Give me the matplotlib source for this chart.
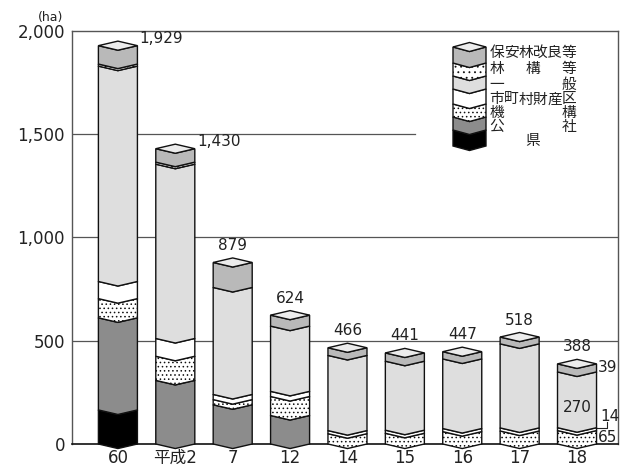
import numpy as np
import matplotlib.pyplot as plt
from matplotlib.patches import Polygon

plt.rcParams['font.family'] = ['DejaVu Sans', 'Noto Sans CJK JP']
plt.rcParams['hatch.linewidth'] = 0.6

# 年度別の造林面積 (ha), 事業主体別
years = ['60', '平成2', '7', '12', '14', '15', '16', '17', '18']
totals = [1929, 1430, 879, 624, 466, 441, 447, 518, 388]
ken = [165, 0, 0, 0, 0, 0, 0, 0, 0]
kosha = [446, 308, 190, 138, 0, 0, 0, 0, 0]
kiko = [93, 117, 25, 92, 50, 52, 60, 63, 65]
shichoson = [83, 86, 25, 25, 15, 15, 15, 15, 14]
ippan = [1043, 844, 518, 316, 364, 334, 337, 407, 270]
rinko = [10, 10, 0, 0, 0, 0, 0, 0, 0]
hoanrin = [89, 65, 121, 53, 37, 40, 35, 33, 39]

# bottom -> top
series = [ken, kosha, kiko, shichoson, ippan, rinko, hoanrin]
names = ['県', '公社', '機構', '市町村財産区', '一般', '林構等', '保安林改良等']
faces = ['#000000', '#8c8c8c', 'white', 'white', '#dedede', 'white', '#b9b9b9']
hatches = [None, None, '....', None, None, '...', None]
top_face = '#ececec'

W, H = 627, 468
fig = plt.figure(figsize=(W / 100, H / 100), dpi=100)
ax = fig.add_axes([72 / W, 1 - 444 / H, (618 - 72) / W, (444 - 31) / H])
ax.set_xlim(-0.80, 8.714)
ax.set_ylim(0, 2000)

pos = np.arange(len(years))
w = 0.34   # half width of a column
d = 22     # depth of the chevrons (ha)

# grid
ax.axhline(1500, xmax=(415 - 72) / (618 - 72), color='#555', lw=0.9, zorder=1)
for g in (500, 1000):
    ax.axhline(g, color='#555', lw=0.9, zorder=1)


def column(x, vals, total):
    lo = 0
    for v, fc, h in zip(vals, faces, hatches):
        if v == 0:
            continue
        hi = lo + v
        pts = [(x - w, lo), (x, lo - d), (x + w, lo), (x + w, hi), (x, hi - d), (x - w, hi)]
        ax.add_patch(Polygon(pts, closed=True, facecolor=fc, edgecolor='#111', lw=1,
                             hatch=h, clip_on=False, zorder=3))
        lo = hi
    pts = [(x - w, total), (x, total + d), (x + w, total), (x, total - d)]
    ax.add_patch(Polygon(pts, closed=True, facecolor=top_face, edgecolor='#111', lw=1,
                         clip_on=False, zorder=3))


for i, x in enumerate(pos):
    column(x, [s[i] for s in series], totals[i])
    label = f'{totals[i]:,}'
    if i < 2:
        ax.text(x + w + 0.04, totals[i], label, ha='left', va='bottom', fontsize=11, color='#222')
    else:
        ax.text(x, totals[i] + d + 24, label, ha='center', va='bottom', fontsize=11, color='#222')

# breakdown of the last column
x = pos[-1]
ax.text(x + w + 0.03, kiko[-1] + shichoson[-1] + ippan[-1] + hoanrin[-1] / 2, str(hoanrin[-1]),
        ha='left', va='center', fontsize=11, color='#222')
ax.text(x, 179, str(ippan[-1]), ha='center', va='center', fontsize=11, color='#222', zorder=4)
ax.text(x + w + 0.06, 135, str(shichoson[-1]), ha='left', va='center', fontsize=11, color='#222')
ax.text(x + w + 0.03, kiko[-1] / 2, str(kiko[-1]), ha='left', va='center', fontsize=11, color='#222')
ax.plot([x + w, x + w + 0.19, x + w + 0.19], [76, 76, 108], color='#222', lw=0.8, clip_on=False)

# axes styling
for side in ('top', 'right', 'left'):
    ax.spines[side].set_color('#555')
    ax.spines[side].set_linewidth(1)
ax.spines['bottom'].set_color('#111')
ax.spines['bottom'].set_linewidth(1.2)
ax.set_xticks(pos)
ax.set_xticklabels(years)
ax.set_yticks([0, 500, 1000, 1500, 2000])
ax.set_yticklabels(['0', '500', '1,000', '1,500', '2,000'])
ax.tick_params(axis='both', length=0, labelsize=12, colors='#222')
ax.tick_params(axis='x', pad=3.5)
ax.tick_params(axis='y', pad=5)
fig.text(51 / W, 1 - 18 / H, '(ha)', ha='center', va='center', fontsize=9, color='#222')

# legend: a small column with labels, in pixel coordinates
def px(xp, yp):
    return (xp / W, 1 - yp / H)


lx0, lx1 = 453, 486
lxc = (lx0 + lx1) / 2
ld = 4.5
levels = [146, 130, 117, 104, 89, 76, 63, 47]  # segment edges, bottom -> top
for k in range(len(series)):
    lo, hi = levels[k], levels[k + 1]
    pts = [px(lx0, lo), px(lxc, lo + ld), px(lx1, lo), px(lx1, hi), px(lxc, hi + ld), px(lx0, hi)]
    fig.add_artist(Polygon(pts, closed=True, facecolor=faces[k], edgecolor='#111', lw=1,
                           hatch=hatches[k], transform=fig.transFigure))
t = levels[-1]
fig.add_artist(Polygon([px(lx0, t), px(lxc, t - ld), px(lx1, t), px(lxc, t + ld)], closed=True,
                       facecolor=top_face, edgecolor='#111', lw=1, transform=fig.transFigure))

label_y = [141, 127, 113, 99, 84, 68, 52]
for name, yp in zip(names, label_y):
    n = len(name)
    xs = [533] if n == 1 else np.linspace(497, 569, n)
    for ch, xp in zip(name, xs):
        fig.text(xp / W, 1 - yp / H, ch, ha='center', va='center', fontsize=10.6, color='#222')

fig.savefig('out.png', dpi=100)
